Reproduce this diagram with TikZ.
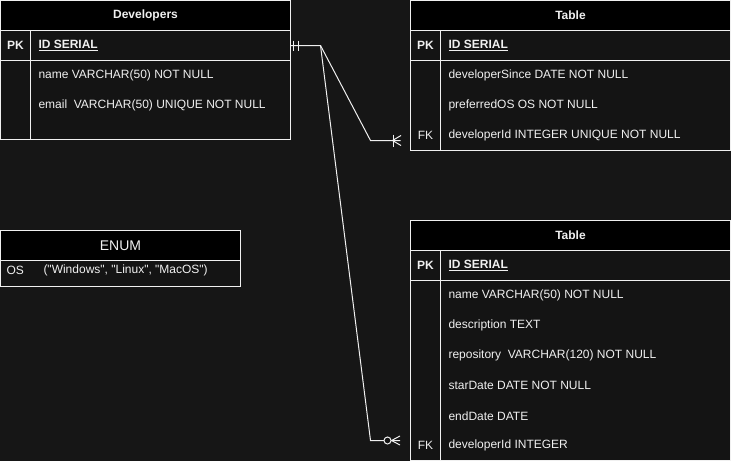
\documentclass[tikz,border=0pt]{standalone}
\usepackage{fontspec}
\setmainfont{Liberation Sans}
\definecolor{bg}{HTML}{161616}
\definecolor{bodyc}{HTML}{141414}
\definecolor{fg}{HTML}{F0F0F0}
\newcommand{\sdq}{\XeTeXglyph\XeTeXcharglyph"22\relax}
\begin{document}
\begin{tikzpicture}[x=1pt,y=-1pt,line width=1pt,
  every node/.style={text=fg,inner sep=0pt,font=\fontsize{12}{14}\selectfont},
  tblbody/.style={draw=fg,fill=bodyc,rectangle},
  hdr/.style={draw=fg,fill=black,rectangle,font=\fontsize{12}{14}\selectfont\bfseries},
  rowbox/.style={draw=fg,rectangle},
  keyc/.style={anchor=center},
  fld/.style={anchor=west},
  conn/.style={draw=fg,line width=1pt},
  ermark/.style={draw=fg,line width=1pt}]
\fill[bg] (0,0) rectangle (731,461);
\useasboundingbox (0,0) rectangle (731,461);

% ---------------- Developers
\node[tblbody,minimum width=290pt,minimum height=139pt] (dev) at (145.5,70) {};
\node[hdr,minimum width=290pt,minimum height=30pt] (devH) at (145.5,15.5) {Developers};
\node[rowbox,minimum width=290pt,minimum height=30pt] (devPK) at (145.5,45.5) {};
\draw[fg] (30.5,30.5) -- (30.5,139.5);
\node[keyc,font=\fontsize{12}{14}\selectfont\bfseries] (devPKk) at (15.5,45.8) {PK};
\node[fld,font=\fontsize{12}{14}\selectfont\bfseries] (devPKf) at (38,45.8) {\underline{ID SERIAL}};
\node[fld] (devF1) at (38,75.8) {name VARCHAR(50) NOT NULL};
\node[fld] (devF2) at (38,105.8) {email\ \ VARCHAR(50) UNIQUE NOT NULL};

% ---------------- Table 1
\node[tblbody,minimum width=320pt,minimum height=150pt] (t1) at (570.5,75.5) {};
\node[hdr,minimum width=320pt,minimum height=30pt] (t1H) at (570.5,15.5) {Table};
\node[rowbox,minimum width=320pt,minimum height=30pt] (t1PK) at (570.5,45.5) {};
\node[minimum width=320pt,minimum height=30pt] (t1FK) at (570.5,140.5) {};
\draw[fg] (440.5,30.5) -- (440.5,150.5);
\node[keyc,font=\fontsize{12}{14}\selectfont\bfseries] (t1PKk) at (425.5,45.8) {PK};
\node[fld,font=\fontsize{12}{14}\selectfont\bfseries] (t1PKf) at (448,45.8) {\underline{ID SERIAL}};
\node[fld] (t1F1) at (448,75.8) {developerSince DATE NOT NULL};
\node[fld] (t1F2) at (448,105.8) {preferredOS OS NOT NULL};
\node[keyc] (t1FKk) at (425.5,135.8) {FK};
\node[fld] (t1F3) at (448,135.8) {developerId INTEGER UNIQUE NOT NULL};

% ---------------- ENUM
\node[tblbody,minimum width=240pt,minimum height=56pt] (en) at (120.5,258.5) {};
\node[hdr,minimum width=240pt,minimum height=30pt,font=\fontsize{14}{16}\selectfont] (enH) at (120.5,245.5) {ENUM};
\node[fld] (enK) at (6,270.8) {OS};
\node[fld] (enV) at (43,270.8) {(\sdq Windows\sdq, \sdq Linux\sdq, \sdq MacOS\sdq)};

% ---------------- Table 2
\node[tblbody,minimum width=320pt,minimum height=240pt] (t2) at (570.5,340.5) {};
\node[hdr,minimum width=320pt,minimum height=30pt] (t2H) at (570.5,235.5) {Table};
\node[rowbox,minimum width=320pt,minimum height=30pt] (t2PK) at (570.5,265.5) {};
\node[minimum width=320pt,minimum height=30pt] (t2FK) at (570.5,440.5) {};
\draw[fg] (440.5,250.5) -- (440.5,460.5);
\node[keyc,font=\fontsize{12}{14}\selectfont\bfseries] (t2PKk) at (425.5,265.8) {PK};
\node[fld,font=\fontsize{12}{14}\selectfont\bfseries] (t2PKf) at (448,265.8) {\underline{ID SERIAL}};
\node[fld] (t2F1) at (448,295.8) {name VARCHAR(50) NOT NULL};
\node[fld] (t2F2) at (448,325.8) {description TEXT};
\node[fld] (t2F3) at (448,355.8) {repository\ \ VARCHAR(120) NOT NULL};
\node[fld] (t2F4) at (448,385.8) {starDate DATE NOT NULL};
\node[fld] (t2F5) at (448,415.8) {endDate DATE};
\node[keyc] (t2FKk) at (425.5,445.8) {FK};
\node[fld] (t2F6) at (448,445.8) {developerId INTEGER};

% ---------------- connectors
\coordinate (b1) at (320.5,45.5);
\coordinate (b2) at (370.5,140.5);
\coordinate (b3) at (370.5,440.5);
\draw[conn,shorten >=9.5pt] (devPK.east) -- (b1) -- (b2) -- (t1FK.west);
\draw[conn,shorten >=10pt] (b1) -- (b3) -- (t2FK.west);
% double bar (one and only one)
\draw[ermark] (293.5,40.5) -- (293.5,50.5) (298.5,40.5) -- (298.5,50.5);
% one or many
\draw[ermark] (393.5,134.5) -- (393.5,146.5);
\draw[ermark] (392.5,140.5) -- (401,135.5) (392.5,140.5) -- (401,145.5);
% zero or many
\draw[ermark,fill=bodyc] (387.5,440.5) circle (3.5pt);
\draw[ermark] (391.5,440.5) -- (400,436) (391.5,440.5) -- (400,445);
\end{tikzpicture}
\end{document}
